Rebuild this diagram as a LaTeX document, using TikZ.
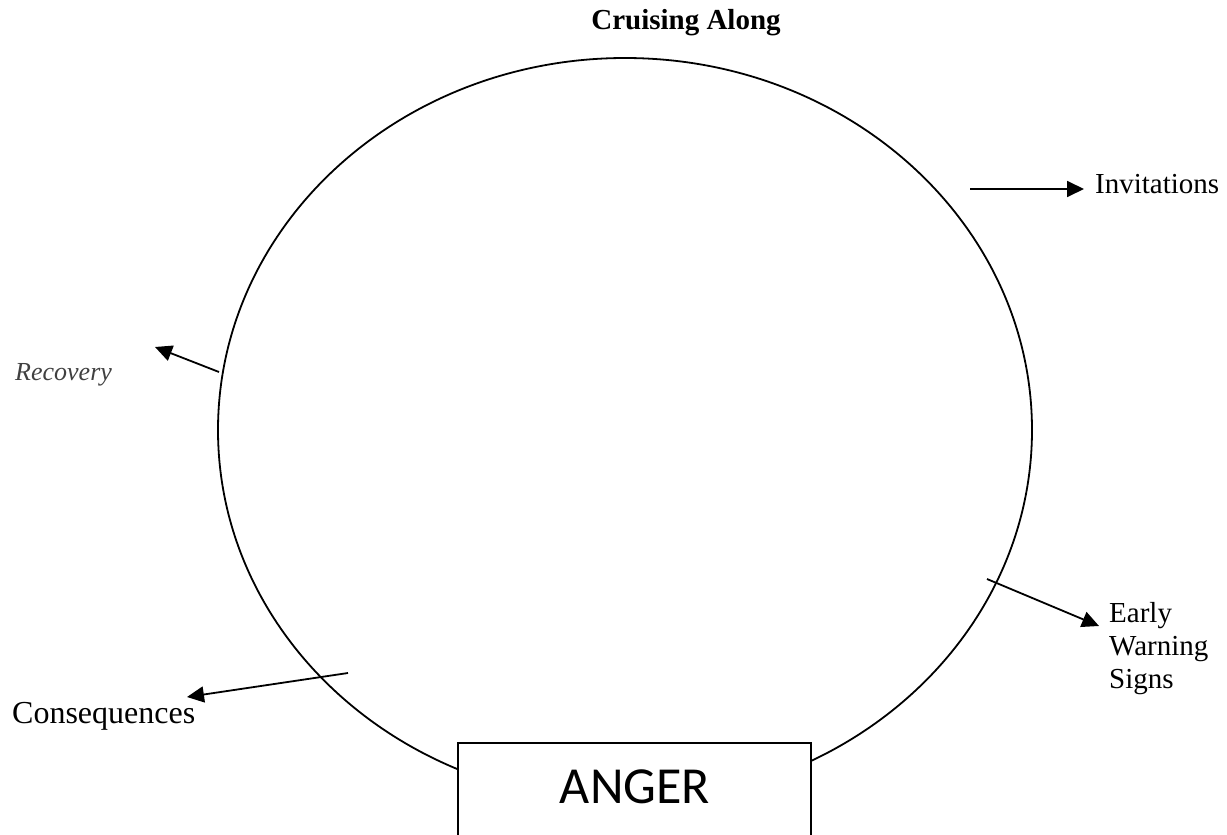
\documentclass[tikz,border=0pt]{standalone}
\usepackage{fontspec}
\setmainfont{Liberation Serif}
\newfontfamily\calib{Carlito}
\usetikzlibrary{arrows.meta}
\definecolor{wordgray}{RGB}{64,64,64}
\tikzset{
  conn/.style={line width=1.8pt, -{Triangle[length=17pt,width=16pt]}},
  lbl/.style={inner sep=0pt, font=\fontsize{29}{33}\selectfont},
}
\begin{document}
\begin{tikzpicture}[x=1pt,y=-1pt]
\useasboundingbox (0,0) rectangle (1227,835);
\clip (0,0) rectangle (1227,835);
% cycle
\draw[line width=1.8pt] (625,430) ellipse [x radius=407, y radius=372];
% anger box
\path[fill=white] (458,743) rectangle (811,860);
\draw[line width=1.8pt] (458,860) -- (458,743) -- (811,743) -- (811,860);
\node[inner sep=0pt, anchor=base, font=\calib\fontsize{52}{60}\selectfont] (anger) at (635,803) {ANGER};
% labels
\node[lbl, anchor=base, font=\bfseries\fontsize{29}{33}\selectfont] (title) at (686,30) {Cruising Along};
\node[lbl, anchor=base west] (inv) at (1095,193) {Invitations};
\node[lbl, anchor=base west, align=left] (ews) at (1109,688) {Early\\Warning\\Signs};
\node[lbl, anchor=base west, font=\fontsize{32}{36}\selectfont] (cons) at (12,723) {Consequences};
\node[lbl, anchor=base west, text=wordgray, font=\itshape\fontsize{26}{30}\selectfont] (rec) at (15,380) {Recovery};
% arrows
\coordinate (invs) at (970,189);
\coordinate (invt) at (1084,189);
\coordinate (recs) at (219,372);
\coordinate (rect) at (155,347);
\coordinate (conss) at (348,673);
\coordinate (const) at (187,697);
\coordinate (ewss) at (987,579);
\coordinate (ewst) at (1099,626);
\draw[conn] (invs) -- (invt);
\draw[conn] (recs) -- (rect);
\draw[conn] (conss) -- (const);
\draw[conn] (ewss) -- (ewst);
\end{tikzpicture}
\end{document}
